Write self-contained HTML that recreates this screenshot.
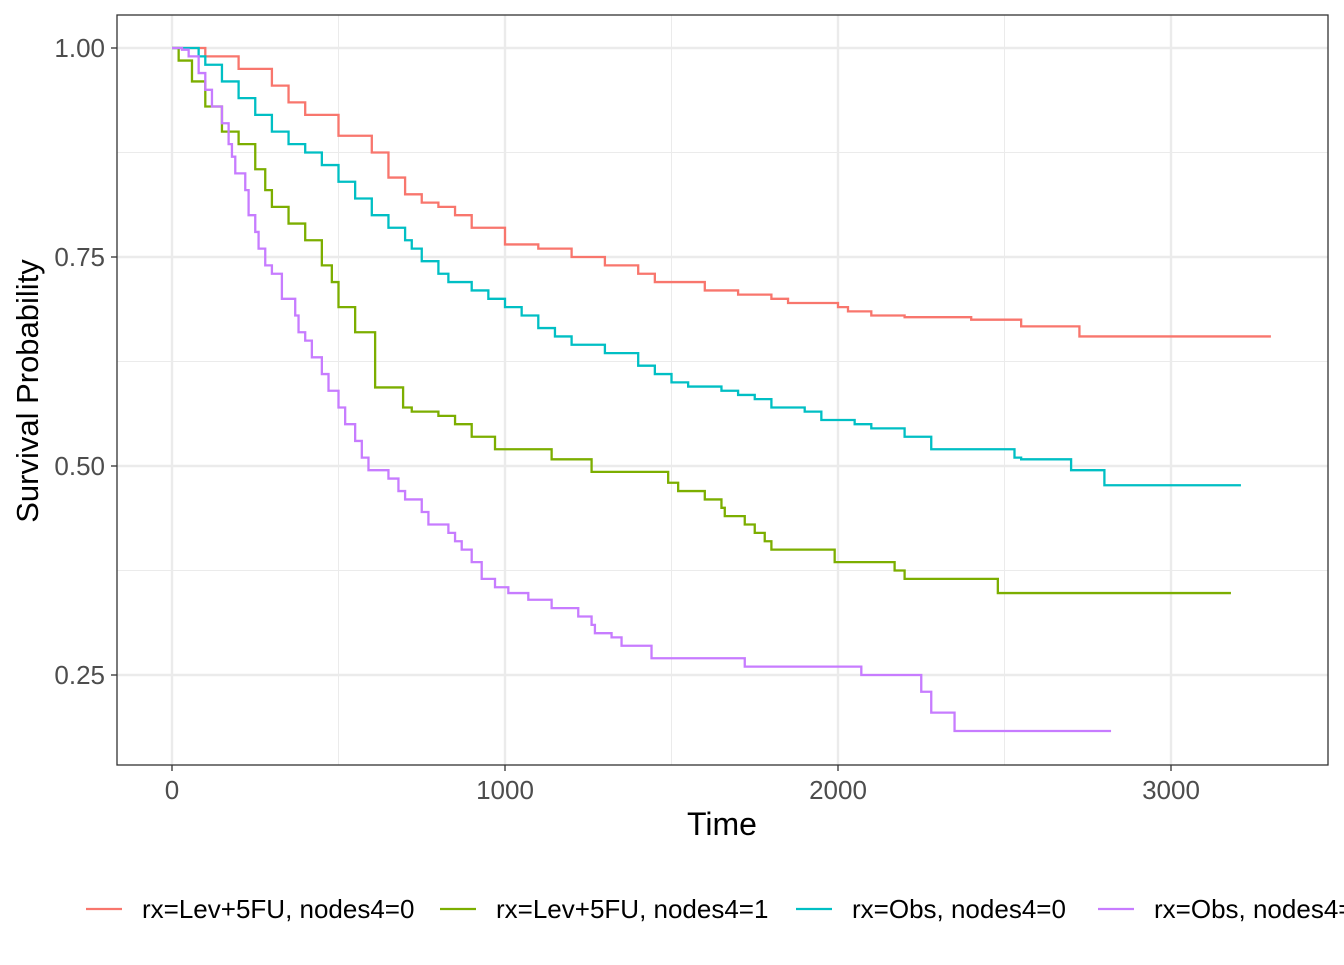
<!DOCTYPE html>
<html><head><meta charset="utf-8"><style>
body{margin:0;background:#fff;font-family:"Liberation Sans",Arial,sans-serif}
</style></head><body>
<svg id="c" width="1344" height="960" xmlns="http://www.w3.org/2000/svg" font-family="Liberation Sans, Arial, sans-serif"></svg>
<script>
const xTicks=[0,1000,2000,3000];
const yTicks=[0.25,0.5,0.75,1.0];
const yTickLabels=["0.25","0.50","0.75","1.00"];
const seriesNames=["rx=Lev+5FU, nodes4=0","rx=Lev+5FU, nodes4=1","rx=Obs, nodes4=0","rx=Obs, nodes4=1"];
const colors=["#F8766D","#7CAE00","#00BFC4","#C77CFF"];
const redT=[0,100,200,300,350,400,500,600,650,700,750,800,850,900,1000,1100,1200,1300,1400,1450,1600,1700,1800,1850,2000,2030,2100,2200,2400,2550,2725,3300];
const redS=[1,0.99,0.975,0.955,0.935,0.92,0.895,0.875,0.845,0.825,0.815,0.81,0.8,0.785,0.765,0.76,0.75,0.74,0.73,0.72,0.71,0.705,0.7,0.695,0.69,0.685,0.68,0.678,0.675,0.667,0.655,0.655];
const greenT=[0,20,60,100,150,200,250,280,300,350,400,450,480,500,550,610,694,720,800,850,900,970,1140,1260,1490,1520,1600,1650,1660,1720,1750,1780,1800,1990,2170,2200,2480,3180];
const greenS=[1,0.985,0.96,0.93,0.9,0.885,0.855,0.83,0.81,0.79,0.77,0.74,0.72,0.69,0.66,0.594,0.57,0.565,0.56,0.55,0.535,0.52,0.508,0.493,0.48,0.47,0.46,0.45,0.44,0.43,0.42,0.41,0.40,0.385,0.375,0.365,0.348,0.348];
const tealT=[0,80,100,150,200,250,300,350,400,450,500,550,600,650,700,720,750,800,830,900,950,1000,1050,1100,1150,1200,1300,1400,1450,1500,1550,1650,1700,1750,1800,1900,1950,2050,2100,2200,2280,2530,2550,2700,2800,3210];
const tealS=[1,0.99,0.98,0.96,0.94,0.92,0.9,0.885,0.875,0.86,0.84,0.82,0.8,0.785,0.77,0.76,0.745,0.73,0.72,0.71,0.7,0.69,0.68,0.665,0.655,0.645,0.635,0.62,0.61,0.6,0.595,0.59,0.585,0.58,0.57,0.565,0.555,0.55,0.545,0.535,0.52,0.51,0.508,0.495,0.477,0.477];
const purpleT=[0,30,50,80,100,120,150,170,180,190,220,230,250,260,280,300,330,370,380,400,420,450,470,500,520,550,570,590,650,680,700,750,770,830,850,870,900,930,970,1010,1070,1140,1220,1260,1270,1320,1350,1440,1720,2070,2250,2280,2350,2820];
const purpleS=[1,0.998,0.99,0.97,0.95,0.93,0.91,0.885,0.87,0.85,0.83,0.8,0.78,0.76,0.74,0.73,0.7,0.68,0.66,0.65,0.63,0.61,0.59,0.57,0.55,0.53,0.51,0.495,0.485,0.47,0.46,0.445,0.43,0.42,0.41,0.4,0.385,0.365,0.355,0.348,0.34,0.33,0.32,0.31,0.3,0.295,0.285,0.27,0.26,0.25,0.23,0.205,0.183,0.183];
const allT=[redT,greenT,tealT,purpleT], allS=[redS,greenS,tealS,purpleS];
const NS="http://www.w3.org/2000/svg";
const svg=document.getElementById('c');
const L=117,R=1328,T=15,B=765;
const sx=t=>172+t*0.333;
const sy=s=>48+(1-s)*836;
function mk(tag,at,parent){const e=document.createElementNS(NS,tag);for(const k in at)e.setAttribute(k,at[k]);(parent||svg).appendChild(e);return e;}
for(let i=0;i<xTicks.length-1;i++){const m=(xTicks[i]+xTicks[i+1])/2;const g=mk('line',{x1:sx(m),x2:sx(m),y1:T,y2:B,stroke:'#ebebeb','stroke-width':1});

}
for(let i=0;i<yTicks.length-1;i++){const m=(yTicks[i]+yTicks[i+1])/2;const g=mk('line',{x1:L,x2:R,y1:sy(m),y2:sy(m),stroke:'#ebebeb','stroke-width':1});

}
xTicks.forEach(t=>{const g=mk('line',{x1:sx(t),x2:sx(t),y1:T,y2:B,stroke:'#ebebeb','stroke-width':2.4});


mk('line',{x1:sx(t),x2:sx(t),y1:B,y2:B+6,stroke:'#333','stroke-width':1.3});
const tx=mk('text',{x:sx(t),y:799,'text-anchor':'middle','font-size':26,fill:'#4d4d4d'});tx.textContent=t;

});
yTicks.forEach((v,i)=>{const g=mk('line',{x1:L,x2:R,y1:sy(v),y2:sy(v),stroke:'#ebebeb','stroke-width':2.4});


mk('line',{x1:L-6,x2:L,y1:sy(v),y2:sy(v),stroke:'#333','stroke-width':1.3});
const tx=mk('text',{x:L-12,y:sy(v)+9,'text-anchor':'end','font-size':26,fill:'#4d4d4d'});tx.textContent=yTickLabels[i];

});
allT.forEach((ts,k)=>{const ss=allS[k];let d='M'+sx(ts[0])+','+sy(ss[0]);
for(let i=1;i<ts.length;i++){d+=' H'+sx(ts[i])+' V'+sy(ss[i]);}
const p=mk('path',{d:d,fill:'none',stroke:colors[k],'stroke-width':2.3});

});
const fr=mk('rect',{x:L,y:T,width:R-L,height:B-T,fill:'none',stroke:'#333','stroke-width':1.3});


const xt=mk('text',{x:722,y:835,'text-anchor':'middle','font-size':32,fill:'#000'});xt.textContent='Time';


const yt=mk('text',{x:0,y:0,transform:'translate(38,391) rotate(-90)','text-anchor':'middle','font-size':31,fill:'#000'});yt.textContent='Survival Probability';


const lx=[86,440,796,1098];
seriesNames.forEach((n,k)=>{const g=mk('g',{});


mk('line',{x1:lx[k],x2:lx[k]+36,y1:909,y2:909,stroke:colors[k],'stroke-width':2.3},g);
const t=mk('text',{x:lx[k]+56,y:918,'font-size':26,fill:'#000'},g);t.textContent=n;});
</script>
</body></html>
